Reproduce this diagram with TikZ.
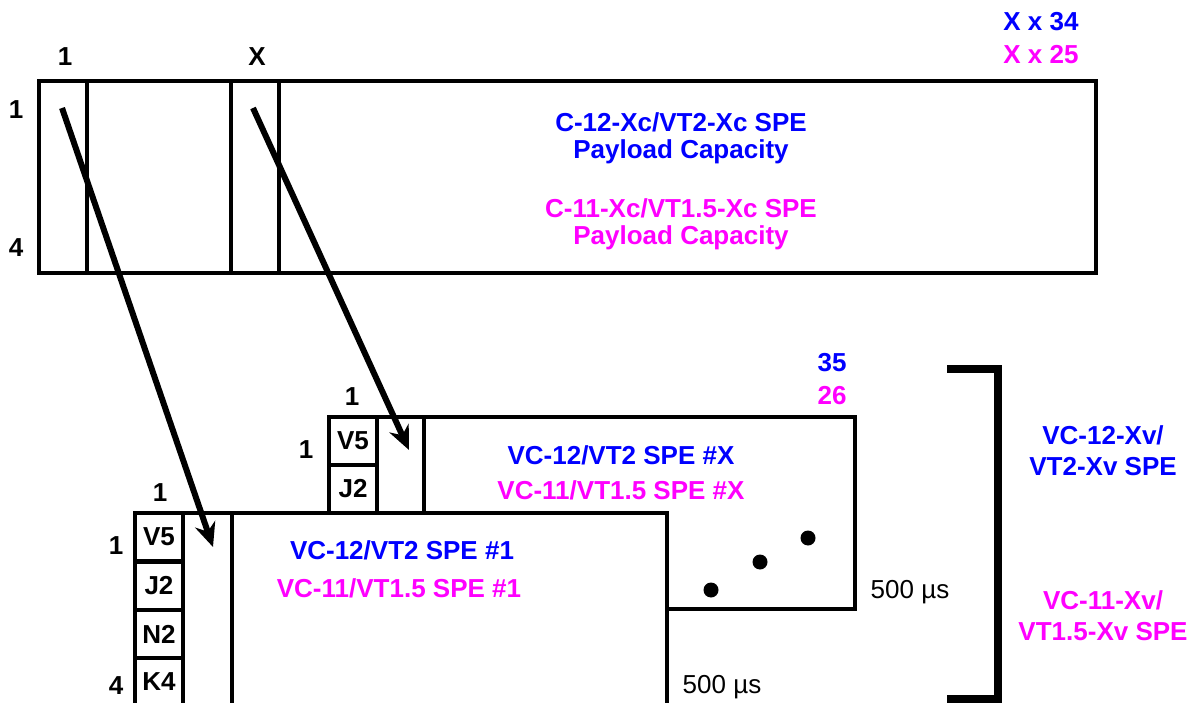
\documentclass[tikz,border=0pt]{standalone}
\usepackage{fontspec}
\setmainfont{Liberation Sans}
\usetikzlibrary{arrows.meta, positioning, calc}
\definecolor{pblue}{RGB}{0,0,255}
\definecolor{pmagenta}{RGB}{255,0,255}

\begin{document}
\begin{tikzpicture}[x=1pt, y=-1pt, >={Stealth[length=24pt, width=21pt]},
    frame/.style={line width=3.5pt},
    cell/.style={draw, line width=3.5pt, minimum width=48pt, minimum height=48pt,
      inner sep=0pt, font=\fontsize{26}{30}\selectfont\bfseries},
    lbl/.style={inner sep=0pt, font=\fontsize{26}{30}\selectfont\bfseries},
    blu/.style={lbl, text=pblue},
    mag/.style={lbl, text=pmagenta},
    plain/.style={inner sep=0pt, font=\fontsize{26}{30}\selectfont},
    pointer/.style={->, line width=6pt},
    spot/.style={circle, fill, inner sep=0pt, minimum size=15pt}]

        \useasboundingbox (0,0) rectangle (1199,703);

        % Top frame
        \draw[frame] (39,81) rectangle (1096,273);
        \draw[frame] (87,81) -- (87,273) (231,81) -- (231,273) (279,81) -- (279,273);

        \node [lbl] (col1) at (65,57)  {1};
        \node [lbl] (colX) at (257,57) {X};
        \node [lbl] (row1) at (16,110) {1};
        \node [lbl] (row4) at (16,248) {4};
        \node [blu] (cnt34) at (1041,22) {X x 34};
        \node [mag] (cnt25) at (1041,55) {X x 25};
        \node [blu] (capA) at (681,122) {C-12-Xc/VT2-Xc SPE};
        \node [blu] (capB) at (681,152) {Payload Capacity};
        \node [mag] (capC) at (681,208) {C-11-Xc/VT1.5-Xc SPE};
        \node [mag] (capD) at (681,238) {Payload Capacity};

        % Back frame (#X)
        \draw[frame, fill=white] (329,417) rectangle (855,609);
        \draw[frame] (377,417) -- (377,609) (424,417) -- (424,609);
        \node [cell] (v5X) at (353,441) {V5};
        \node [cell] (j2X) at (353,489) {J2};
        \node [lbl] (colX1) at (352,397) {1};
        \node [lbl] (rowX1) at (306,450) {1};
        \node [blu] (n35) at (832,363) {35};
        \node [mag] (n26) at (832,396) {26};
        \node [blu] (speXa) at (621,455) {VC-12/VT2 SPE \#X};
        \node [mag] (speXb) at (621,490) {VC-11/VT1.5 SPE \#X};
        \node [plain] (tX) at (910,592) {500 µs};

        % Front frame (#1)
        \fill[white] (135,513) rectangle (667,720);
        \draw[frame] (135,720) -- (135,513) -- (667,513) -- (667,720);
        \draw[frame] (183,513) -- (183,720) (232,513) -- (232,720);
        \node [cell] (v5a) at (159,537) {V5};
        \node [cell] (j2a) at (159,586) {J2};
        \node [cell] (n2a) at (159,634) {N2};
        \node [cell] (k4a) at (159,682) {K4};
        \node [lbl] (colA1) at (160,493) {1};
        \node [lbl] (rowA1) at (116,546) {1};
        \node [lbl] (rowA4) at (116,686) {4};
        \node [blu] (speAa) at (402,550) {VC-12/VT2 SPE \#1};
        \node [mag] (speAb) at (399,588) {VC-11/VT1.5 SPE \#1};
        \node [plain] (tA) at (722,687) {500 µs};

        % Dots
        \node [spot] (d1) at (711,590) {};
        \node [spot] (d2) at (760,562) {};
        \node [spot] (d3) at (808,538) {};

        % Bracket
        \draw[line width=7.5pt] (947,369) -- (998,369) -- (998,699) -- (947,699);
        \node [blu] (grpA) at (1103,435) {VC-12-Xv/};
        \node [blu] (grpB) at (1103,467) {VT2-Xv SPE};
        \node [mag] (grpC) at (1103,600) {VC-11-Xv/};
        \node [mag] (grpD) at (1103,632) {VT1.5-Xv SPE};

        % Edges
        \coordinate (s1) at (62,108);
        \coordinate (e1) at (213,547);
        \coordinate (sX) at (253,108);
        \coordinate (eX) at (409,450);
        \draw[pointer] (s1) -- (e1);
        \draw[pointer] (sX) -- (eX);

      \end{tikzpicture}
\end{document}
